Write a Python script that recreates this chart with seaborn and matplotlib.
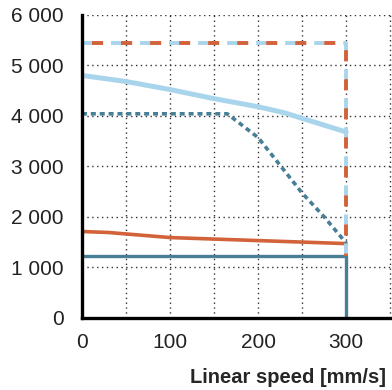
import matplotlib
matplotlib.use("Agg")
import matplotlib.pyplot as plt
from matplotlib.ticker import FuncFormatter, MultipleLocator
import seaborn as sns

# data
speed_curve = [0, 50, 100, 150, 200, 230, 250, 300]
lightblue_curve = [4800, 4680, 4520, 4340, 4180, 4060, 3950, 3680]
orange_curve_x = [0, 30, 100, 150, 200, 250, 300]
orange_curve = [1710, 1690, 1590, 1560, 1530, 1500, 1470]

teal_solid_x = [0, 300, 300]
teal_solid = [1220, 1220, 0]

teal_dotted_x = [0, 165, 200, 250, 275, 300]
teal_dotted = [4040, 4040, 3570, 2470, 2000, 1480]

limit_x = [0, 300, 300]
limit_y = [5440, 5440, 1220]

orange = "#D2623A"
lightblue = "#A9D5EC"
teal = "#477F97"

sns.set_theme(style="white")
plt.rcParams["font.family"] = ["Liberation Sans", "DejaVu Sans"]
plt.rcParams["lines.scale_dashes"] = False

fig = plt.figure(figsize=(3.92, 3.90), dpi=100)
ax = fig.add_axes([0.209, 0.185, 0.791, 0.777])

common = dict(estimator=None, sort=False, legend=False, ax=ax)
sns.lineplot(x=speed_curve, y=lightblue_curve, color=lightblue, linewidth=3.6, **common)
sns.lineplot(x=orange_curve_x, y=orange_curve, color=orange, linewidth=2.6, **common)
sns.lineplot(x=teal_solid_x, y=teal_solid, color=teal, linewidth=2.4, **common)
sns.lineplot(x=teal_dotted_x, y=teal_dotted, color=teal, linewidth=2.6,
             linestyle=(0, (3.6, 2.8)), **common)
sns.lineplot(x=limit_x, y=limit_y, color=lightblue, linewidth=2.8,
             linestyle=(0, (7.2, 13.7)), **common)
sns.lineplot(x=limit_x, y=limit_y, color=orange, linewidth=2.8,
             linestyle=(13.7, (8.0, 12.9)), **common)

ax.set_xlim(0, 352)
ax.set_ylim(0, 6000)
ax.xaxis.set_major_locator(MultipleLocator(100))
ax.xaxis.set_minor_locator(MultipleLocator(50))
ax.yaxis.set_major_locator(MultipleLocator(1000))
ax.yaxis.set_major_formatter(FuncFormatter(lambda v, p: f"{v:,.0f}".replace(",", " ")))

ax.grid(True, which="both", axis="x", linestyle=(0, (1, 2.5)), color="#333333", linewidth=1.0)
ax.grid(True, which="major", axis="y", linestyle=(0, (1, 2.5)), color="#333333", linewidth=1.0)
ax.set_axisbelow(True)

for side in ["top", "right"]:
    ax.spines[side].set_visible(False)
for side in ["left", "bottom"]:
    ax.spines[side].set_color("black")
    ax.spines[side].set_linewidth(2.4)

ax.tick_params(axis="both", which="both", length=0, labelsize=15, colors="#222222")
ax.tick_params(axis="y", pad=13)
ax.tick_params(axis="x", pad=11)

ax.set_xlabel("Linear speed [mm/s]", fontsize=14.5, fontweight="bold", ha="right")
ax.xaxis.set_label_coords(0.982, -0.165)
ax.set_ylabel("")

fig.savefig("out.png", dpi=100)
